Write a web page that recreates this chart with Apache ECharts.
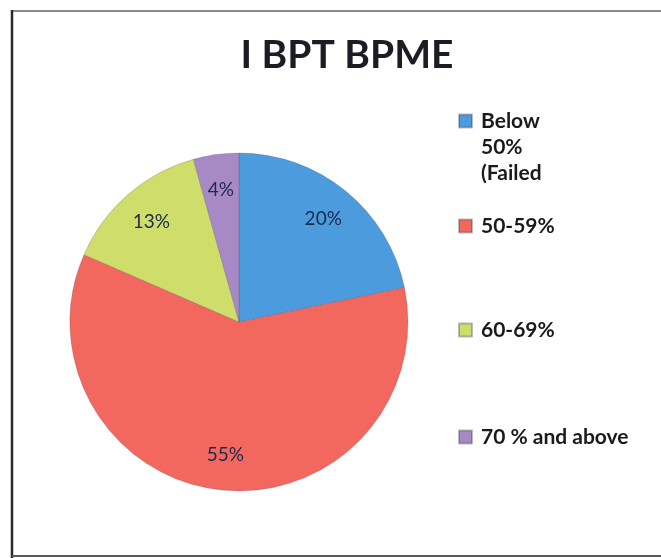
<!DOCTYPE html>
<html>
<head>
<meta charset="utf-8">
<script src="https://cdn.jsdelivr.net/npm/echarts@6/dist/echarts.min.js"></script>
<style>
html,body{margin:0;padding:0;background:#fff;}
#chart{width:661px;height:558px;}
</style>
</head>
<body>
<div id="chart"></div>
<script>
const chartTitle = 'I BPT BPME';
const categories = ['Below\n50%\n(Failed', '50-59%', '60-69%', '70 % and above'];
const values = [20, 55, 13, 4];
const colors = ['#4C9CDD', '#F2675E', '#CFDE6B', '#A78AC5'];

const chart = echarts.init(document.getElementById('chart'), null, {renderer: 'canvas'});

const data = categories.map((c, i) => ({name: c, value: values[i], itemStyle: {color: colors[i]}}));
const labelData = categories.map((c, i) => ({name: c, value: values[i], itemStyle: {color: 'rgba(0,0,0,0)'}}));

const legendTops = [56, 213, 317, 424];
const legends = categories.map((c, i) => ({
  data: [c],
  orient: 'vertical',
  left: 458,
  top: legendTops[i],
  padding: 0,
  icon: 'rect',
  itemWidth: 13,
  itemHeight: 13,
  selectedMode: false,
  formatter: i === 0 ? (n => '\n\n' + n) : (n => n),
  textStyle: {
    fontFamily: 'Lato',
    fontWeight: 'bold',
    fontSize: 21,
    color: '#1a1a1a',
    lineHeight: 26,
    padding: [0, 0, 0, 4]
  }
}));

chart.setOption({
  backgroundColor: '#fff',
  animation: false,
  color: colors,
  title: {
    text: chartTitle,
    left: 342,
    textAlign: 'center',
    top: 31,
    textStyle: {
      fontFamily: 'Lato',
      fontWeight: 'bold',
      fontSize: 39,
      color: '#1c1c24'
    }
  },
  legend: legends,
  graphic: [
    {type: 'line', shape: {x1: 12, y1: 11, x2: 661, y2: 11}, style: {stroke: '#8a8a8a', lineWidth: 2}},
    {type: 'line', shape: {x1: 12, y1: 10, x2: 12, y2: 558}, style: {stroke: '#2a2a2a', lineWidth: 2.5}},
    {type: 'line', shape: {x1: 12, y1: 556, x2: 661, y2: 556}, style: {stroke: '#5a5a5a', lineWidth: 2}}
  ],
  series: [
    {
      type: 'pie',
      center: [239, 322],
      radius: [0, 169],
      startAngle: 90,
      clockwise: true,
      data: data,
      label: {show: false},
      labelLine: {show: false},
      itemStyle: {borderColor: 'rgba(60,60,80,0.35)', borderWidth: 0.6},
      emphasis: {disabled: true}
    },
    {
      type: 'pie',
      center: [239, 322],
      radius: [92, 169],
      startAngle: 90,
      clockwise: true,
      silent: true,
      data: labelData,
      label: {
        show: true,
        position: 'inside',
        formatter: '{c}%',
        fontFamily: 'Lato',
        fontSize: 19,
        color: '#1d2850',
        padding: [8, 0, 0, 0]
      },
      labelLine: {show: false},
      emphasis: {disabled: true}
    }
  ]
});
</script>
</body>
</html>
